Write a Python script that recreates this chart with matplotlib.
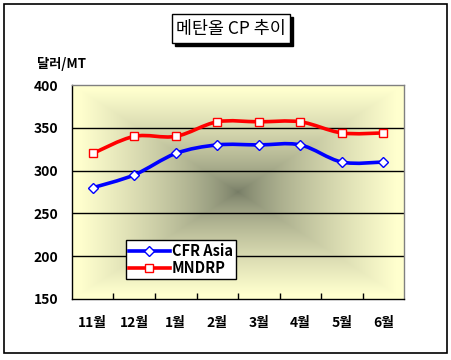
import numpy as np
import matplotlib
matplotlib.use("Agg")
import matplotlib.pyplot as plt
from matplotlib.path import Path
from matplotlib.patches import PathPatch, Rectangle
from matplotlib.lines import Line2D

plt.rcParams['font.family'] = ['Noto Sans CJK KR', 'DejaVu Sans']

months = ['11월', '12월', '1월', '2월', '3월', '4월', '5월', '6월']
cfr_asia = [280, 295, 320, 330, 330, 330, 310, 310]
mndrp = [320, 340, 340, 357, 357, 357, 344, 344]
yticks = [150, 200, 250, 300, 350, 400]
title = '메탄올 CP 추이'
unit = '달러/MT'

W, H = 452, 360
fig = plt.figure(figsize=(W / 100, H / 100), dpi=100)
fig.patch.set_facecolor('white')

# outer border
fig.add_artist(Rectangle((4 / W, 1 - 353 / H), 443 / W, 349 / H, transform=fig.transFigure,
                         fill=False, edgecolor='black', linewidth=1.2))

ax = fig.add_axes([72 / W, 1 - 299 / H, 332 / W, 214 / H])
ax.set_xlim(-0.5, len(months) - 0.5)
ax.set_ylim(150, 400)

# rectangular "from centre" gradient background
ny, nx = 214, 332
yy, xx = np.mgrid[0:ny, 0:nx]
dx = np.abs((xx + 0.5) / nx - 0.5) * 2
dy = np.abs((yy + 0.5) / ny - 0.5) * 2
t = np.maximum(dx, dy)
t = np.clip(t * 1.05, 0, 1) ** 0.7
center = np.array([116, 122, 100]) / 255
edge = np.array([255, 255, 206]) / 255
img = center[None, None, :] * (1 - t[..., None]) + edge[None, None, :] * t[..., None]
ax.imshow(img, extent=[0, 1, 0, 1], transform=ax.transAxes, aspect='auto', zorder=0,
          interpolation='nearest')

for v in yticks[1:-1]:
    ax.axhline(v, color='black', linewidth=1.0, zorder=1)

ax.spines['left'].set_color('black')
ax.spines['bottom'].set_color('black')
ax.spines['top'].set_color('#808080')
ax.spines['right'].set_color('#808080')
for s in ax.spines.values():
    s.set_linewidth(1.0)

ax.set_yticks(yticks)
ax.set_yticklabels([str(v) for v in yticks], fontsize=10, fontweight='bold')
ax.tick_params(axis='y', length=0, pad=10)

ax.set_xticks(np.arange(len(months)))
ax.set_xticklabels(months, fontsize=10, fontweight='bold')
ax.tick_params(axis='x', length=0, pad=12)
ax.set_xticks(np.arange(len(months) - 1) + 0.5, minor=True)
ax.tick_params(axis='x', which='minor', direction='in', length=4, width=1, color='black')


def smooth_path(xs, ys):
    pts = np.column_stack([xs, ys]).astype(float)
    n = len(pts)
    verts = [pts[0]]
    codes = [Path.MOVETO]
    for i in range(n - 1):
        p0 = pts[i - 1] if i > 0 else pts[i]
        p1 = pts[i]
        p2 = pts[i + 1]
        p3 = pts[i + 2] if i + 2 < n else pts[i + 1]
        c1 = p1 + (p2 - p0) / 6
        c2 = p2 - (p3 - p1) / 6
        verts += [c1, c2, p2]
        codes += [Path.CURVE4] * 3
    return Path(verts, codes)


xs = np.arange(len(months))
series = [
    ('CFR Asia', cfr_asia, '#0000ff', 'D', 5.2),
    ('MNDRP', mndrp, '#ff0000', 's', 6.2),
]
handles = []
for name, vals, col, mk, ms in series:
    ax.add_patch(PathPatch(smooth_path(xs, vals), facecolor='none', edgecolor=col,
                           linewidth=2.6, zorder=3))
    ax.plot(xs, vals, linestyle='none', marker=mk, markersize=ms, markerfacecolor='white',
            markeredgecolor=col, markeredgewidth=1.0, zorder=4)
    handles.append(Line2D([0], [0], color=col, linewidth=2.6, marker=mk, markersize=ms,
                          markerfacecolor='white', markeredgecolor=col, markeredgewidth=1.0,
                          label=name))

leg = ax.legend(handles=handles, loc='upper left',
                bbox_to_anchor=((126 - 72) / 332, (299 - 240) / 214),
                prop={'weight': 'bold', 'size': 10.5}, frameon=True, fancybox=False,
                edgecolor='black', framealpha=1, handlelength=2.8, handletextpad=0.15,
                borderpad=0.2, labelspacing=0.05, borderaxespad=0)
leg.get_frame().set_linewidth(1.0)
leg.set_zorder(5)

# title with shadow box
fig.add_artist(Rectangle((175 / W, 1 - 46 / H), 118 / W, 29 / H, transform=fig.transFigure,
                         facecolor='black', edgecolor='black'))
fig.add_artist(Rectangle((172 / W, 1 - 43 / H), 118 / W, 29 / H, transform=fig.transFigure,
                         facecolor='white', edgecolor='black', linewidth=1.0))
fig.text(231 / W, 1 - 29 / H, title, ha='center', va='center', fontsize=12.5)

fig.text(37 / W, 1 - 64 / H, unit, ha='left', va='center', fontsize=9.5, fontweight='bold')

fig.savefig('out.png', dpi=100)
